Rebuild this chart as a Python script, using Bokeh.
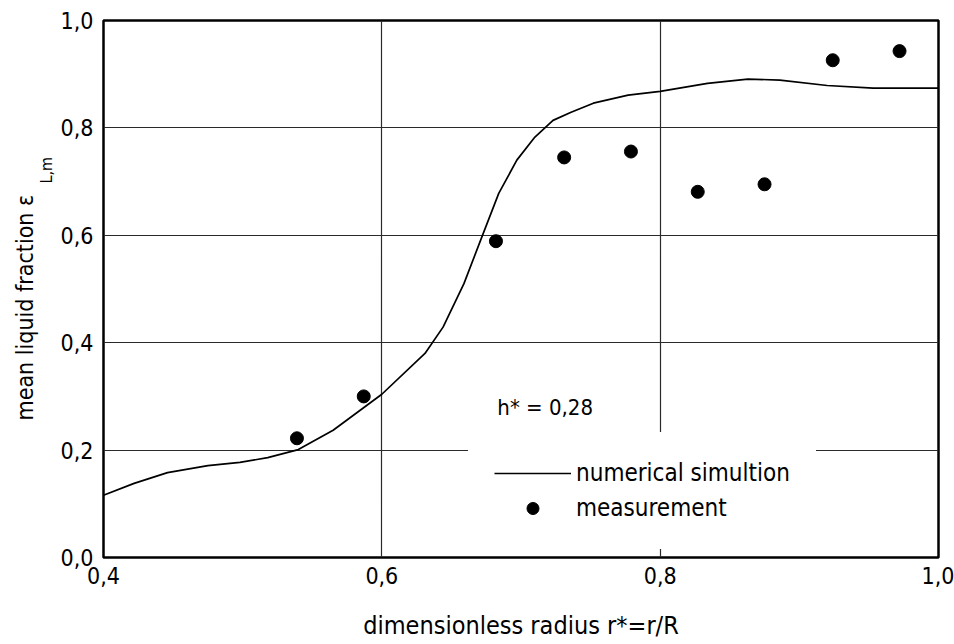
import math
from bokeh.plotting import figure
from bokeh.layouts import row
from bokeh.models import (Label, Legend, LegendItem, FixedTicker, Range1d)
from bokeh.embed import file_html
from bokeh.resources import INLINE

# ---- data ----
sim_x = [0.400, 0.422, 0.446, 0.475, 0.498, 0.518, 0.540, 0.565, 0.600, 0.631,
         0.644, 0.659, 0.671, 0.684, 0.697, 0.710, 0.723, 0.736, 0.752, 0.777,
         0.800, 0.834, 0.863, 0.886, 0.920, 0.953, 1.000]
sim_y = [0.116, 0.138, 0.158, 0.171, 0.177, 0.186, 0.201, 0.237, 0.304, 0.380,
         0.429, 0.510, 0.591, 0.678, 0.740, 0.783, 0.814, 0.829, 0.846, 0.861,
         0.868, 0.883, 0.891, 0.889, 0.879, 0.874, 0.874]

meas_x = [0.539, 0.587, 0.682, 0.731, 0.779, 0.827, 0.875, 0.924, 0.972]
meas_y = [0.222, 0.300, 0.589, 0.745, 0.756, 0.681, 0.695, 0.926, 0.943]

x_ticks = [0.4, 0.6, 0.8, 1.0]
x_tick_labels = ["0,4", "0,6", "0,8", "1,0"]
y_ticks = [0.0, 0.2, 0.4, 0.6, 0.8, 1.0]
y_tick_labels = ["0,0", "0,2", "0,4", "0,6", "0,8", "1,0"]

x_label = "dimensionless radius r*=r/R"
y_label_main = "mean liquid fraction ε"
y_label_sub = "L,m"
annotation = "h* = 0,28"
legend_labels = ["numerical simultion", "measurement"]

FONT = "'Liberation Sans Narrow', 'DejaVu Sans Condensed', 'Roboto', sans-serif"

LEFT_W = 55
TOTAL_W, TOTAL_H = 954, 644

# ---- narrow side figure that carries the rotated y-axis title ----
q = figure(width=LEFT_W, height=TOTAL_H, x_range=Range1d(0, LEFT_W),
           y_range=Range1d(0, TOTAL_H), output_backend="svg",
           toolbar_location=None, x_axis_type=None, y_axis_type=None,
           min_border_left=0, min_border_right=0, min_border_top=0,
           min_border_bottom=0)
q.outline_line_color = None
q.background_fill_color = "white"
q.border_fill_color = "white"
q.add_layout(Label(x=24, y=137, x_units="screen", y_units="screen",
                   angle=math.pi / 2, text=y_label_main, text_font=FONT,
                   text_font_size="23px", text_color="black",
                   text_align="left", text_baseline="alphabetic"))
q.add_layout(Label(x=46, y=374, x_units="screen", y_units="screen",
                   angle=math.pi / 2, text=y_label_sub, text_font=FONT,
                   text_font_size="16px", text_color="black",
                   text_align="left", text_baseline="alphabetic"))

# ---- main chart ----
p = figure(width=TOTAL_W - LEFT_W, height=TOTAL_H,
           x_range=Range1d(0.4, 1.0), y_range=Range1d(0.0, 1.0),
           output_backend="svg", toolbar_location=None,
           min_border_left=103 - LEFT_W, min_border_top=20,
           min_border_right=16, min_border_bottom=87)

p.background_fill_color = "white"
p.border_fill_color = "white"
p.outline_line_color = "black"
p.outline_line_width = 2.5

p.xaxis.ticker = FixedTicker(ticks=x_ticks)
p.yaxis.ticker = FixedTicker(ticks=y_ticks)
p.xaxis.major_label_overrides = dict(zip(x_ticks, x_tick_labels))
p.yaxis.major_label_overrides = dict(zip(y_ticks, y_tick_labels))
for ax in (p.xaxis, p.yaxis):
    ax.axis_line_color = None
    ax.major_tick_line_color = None
    ax.minor_tick_line_color = None
    ax.major_tick_out = 0
    ax.major_tick_in = 0
    ax.major_label_text_font = FONT
    ax.major_label_text_font_size = "23px"
    ax.major_label_text_color = "black"
    ax.axis_label_text_font = FONT
    ax.axis_label_text_font_size = "25px"
    ax.axis_label_text_font_style = "normal"
    ax.axis_label_text_color = "black"
p.xaxis.major_label_standoff = 9
p.yaxis.major_label_standoff = 10
p.xaxis.axis_label = x_label
p.xaxis.axis_label_standoff = 24

p.xgrid.ticker = FixedTicker(ticks=x_ticks)
p.ygrid.ticker = FixedTicker(ticks=y_ticks)
for g in (p.xgrid, p.ygrid):
    g.grid_line_color = "#2a2a2a"
    g.grid_line_width = 1.2

r_sim = p.line(sim_x, sim_y, line_color="black", line_width=1.7)
r_meas = p.scatter(meas_x, meas_y, size=13, fill_color="black", line_color="black")

legend = Legend(items=[LegendItem(label=legend_labels[0], renderers=[r_sim]),
                       LegendItem(label=legend_labels[1], renderers=[r_meas])],
                location=(365, 8), orientation="vertical",
                glyph_width=77, glyph_height=30, spacing=5, padding=25,
                label_standoff=5, border_line_color="white", border_line_width=1,
                background_fill_color="white", background_fill_alpha=1.0,
                label_text_font=FONT, label_text_font_size="24px",
                label_text_color="black", margin=0)
p.add_layout(legend, "center")

p.add_layout(Label(x=0.683, y=0.279, text=annotation, text_font=FONT,
                   text_font_size="22px", text_color="black",
                   text_baseline="alphabetic", text_align="left"))

layout = row(q, p)
open("out.html", "w").write(file_html(layout, INLINE))
